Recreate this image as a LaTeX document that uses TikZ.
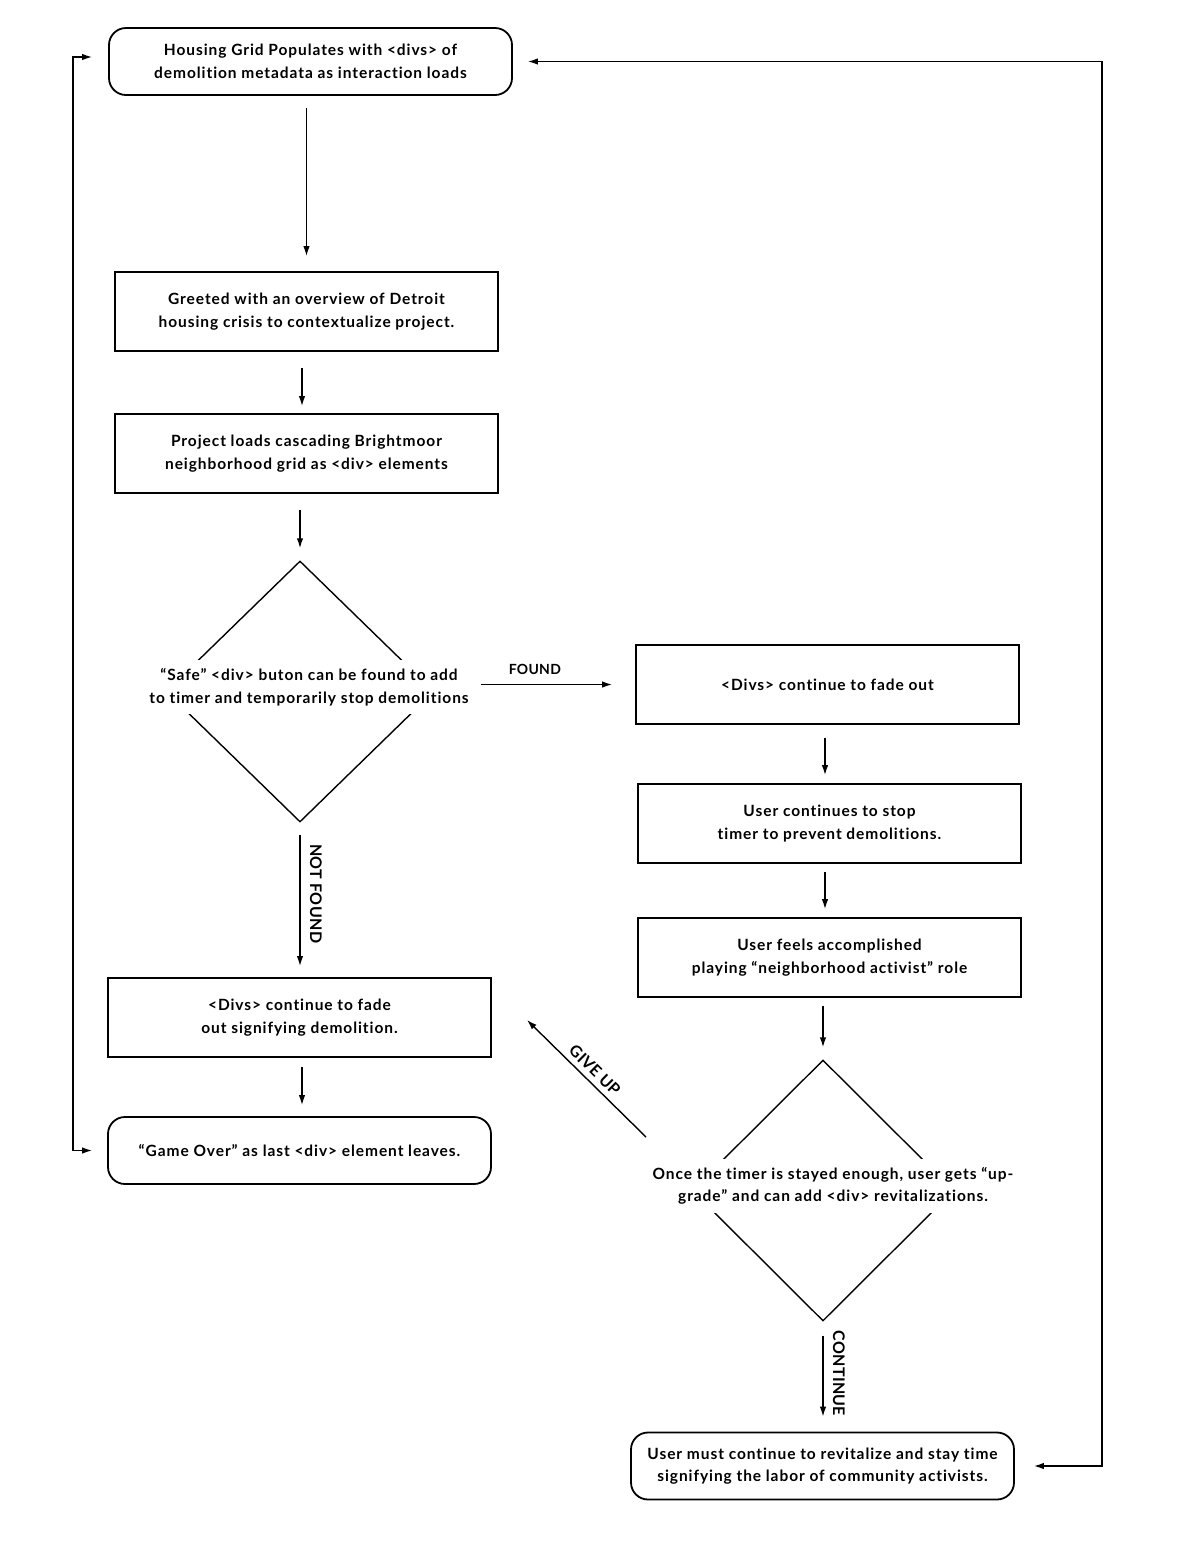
\documentclass[tikz,border=0pt]{standalone}
\usepackage{fontspec}
\setmainfont{Lato}[Ligatures=NoCommon,LetterSpace=6]
\newfontfamily\tagfont{Lato}[Ligatures=NoCommon,LetterSpace=2]
\usetikzlibrary{shapes.geometric,arrows.meta}
\begin{document}
\begin{tikzpicture}[x=1pt,y=-1pt,
  font=\fontsize{15.5}{22.5}\selectfont\bfseries,
  flowhead/.tip={Latex[length=10pt,width=6.5pt]},
  box/.style={draw,line width=1.8pt,minimum width=383pt,minimum height=79pt,align=center,inner sep=0pt},
  term/.style={box,rounded corners=17pt,minimum height=67pt},
  dec/.style={draw,diamond,line width=1.4pt,minimum width=268pt,minimum height=261pt,inner sep=0pt},
  dectext/.style={fill=white,align=center,inner xsep=3pt,inner ysep=8pt},
  flow/.style={-flowhead,line width=1.4pt},
  loop/.style={flowhead-flowhead,line width=1.4pt},
  tag/.style={font=\tagfont\fontsize{16}{18}\selectfont\bfseries,inner sep=4pt}]
  \useasboundingbox (0,0) rectangle (1176,1551);
  \node[term,minimum width=403pt] (grid) at (310.5,61.5) {Housing Grid Populates with <divs> of\\demolition metadata as interaction loads};
  \node[box] (greeted) at (306.5,311.5) {Greeted with an overview of Detroit\\housing crisis to contextualize project.};
  \node[box] (project) at (306.5,453.5) {Project loads cascading Brightmoor\\neighborhood grid as <div> elements};
  \node[dec] (safe) at (300,691.5) {};
  \node[dectext] (safetext) at (309,687) {“Safe” <div> buton can be found to add\\to timer and temporarily stop demolitions};
  \node[box] (found) at (827.5,684.5) {<Divs> continue to fade out};
  \node[box] (stop) at (829.5,823.5) {User continues to stop\\timer to prevent demolitions.};
  \node[box] (activist) at (829.5,957.5) {User feels accomplished\\playing “neighborhood activist” role};
  \node[dec,minimum width=262pt] (upgrade) at (823,1190.5) {};
  \node[dectext] (upgradetext) at (833,1186) {Once the timer is stayed enough, user gets “up-\\grade” and can add <div> revitalizations.};
  \node[term] (labor) at (822.5,1466) {User must continue to revitalize and stay time\\signifying the labor of community activists.};
  \node[box] (fade) at (299.5,1017.5) {<Divs> continue to fade\\out signifying demolition.};
  \node[term] (gameover) at (299.5,1150.5) {“Game Over” as last <div> element leaves.};
  \coordinate (giveupstart) at (646,1137);
  \coordinate (giveupend) at (527,1020);
  \draw[flow,shorten <=12pt,shorten >=15pt] (greeted.north |- grid.south) -- (greeted.north);
  \draw[flow,shorten <=16pt,shorten >=7pt] ([xshift=-4.5pt]greeted.south) -- ([xshift=-4.5pt]project.north);
  \draw[flow,shorten <=16pt,shorten >=12pt] (safe.north |- project.south) -- (safe.north);
  \draw[flow,shorten <=46pt,shorten >=23pt] (safe.east |- found.west) -- (found.west) node[midway,above=5pt,tag,font=\tagfont\fontsize{14}{16}\selectfont\bfseries] {FOUND};
  \draw[flow,shorten <=12pt,shorten >=11pt] (safe.south) -- (safe.south |- fade.north) node[pos=0.46,rotate=-90,anchor=south,outer sep=6pt,tag] {NOT FOUND};
  \draw[flow,shorten <=9pt,shorten >=11pt] ([xshift=2.5pt]fade.south) -- ([xshift=2.5pt]gameover.north);
  \draw[flow,shorten <=13pt,shorten >=8pt] ([xshift=-2.5pt]found.south) -- ([xshift=-2.5pt]found.south |- stop.north);
  \draw[flow,shorten <=8pt,shorten >=8pt] ([xshift=-4.5pt]stop.south) -- ([xshift=-4.5pt]activist.north);
  \draw[flow,shorten <=8pt,shorten >=12pt] (activist.south -| upgrade.north) -- (upgrade.north);
  \draw[flow,shorten <=14pt,shorten >=15pt] (upgrade.south) -- (upgrade.south |- labor.north) node[pos=0.47,rotate=-90,anchor=south,outer sep=6pt,tag] {CONTINUE};
  \draw[flow] (giveupstart) -- (giveupend) node[midway,rotate=-44.5,anchor=south,outer sep=2pt,tag] {GIVE UP};
  \draw[loop,shorten <=16pt,shorten >=15pt] ([yshift=4.5pt]grid.west) -- ++(-35,0) |- (gameover.west);
  \draw[loop,shorten <=15pt,shorten >=19pt] (grid.east) -- ++(589,0) |- (labor.east);
\end{tikzpicture}
\end{document}
